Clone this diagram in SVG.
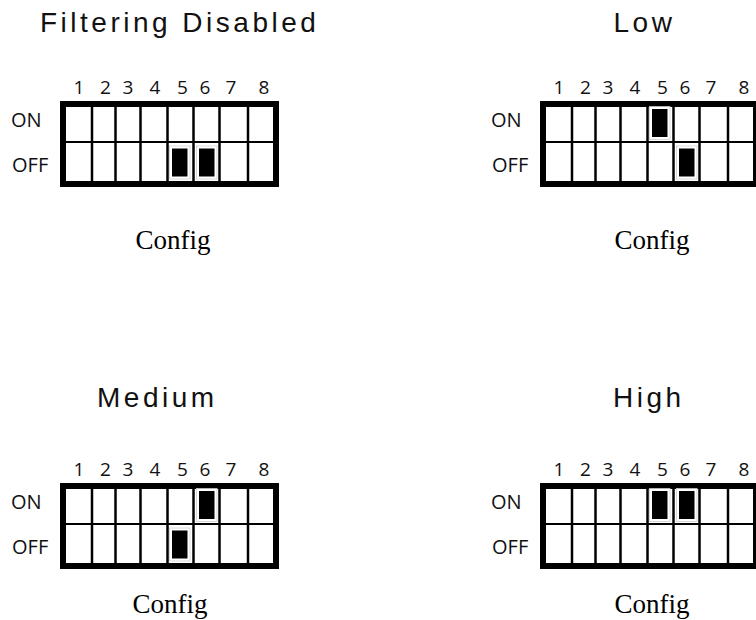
<svg xmlns="http://www.w3.org/2000/svg" xmlns:xlink="http://www.w3.org/1999/xlink" width="756" height="620" viewBox="0 0 756 620">
  <style>
    .title { font-family: "Liberation Sans", Arial, sans-serif; font-size: 28px; letter-spacing: 3.5px; fill: #111; }
    .num { font-family: "Open Sans", "DejaVu Sans", sans-serif; font-size: 19px; fill: #111; text-anchor: middle; }
    .state { font-family: "Open Sans", "DejaVu Sans", sans-serif; font-size: 20px; fill: #111; }
    .cap { font-family: "Liberation Serif", "Times New Roman", serif; font-size: 27px; fill: #000; text-anchor: middle; }
    .frame { fill: #fff; stroke: #000; stroke-width: 6; }
    .div { stroke: #000; stroke-width: 2.5; }
    .mid { stroke: #000; stroke-width: 2; }
    .well { fill: #fff; stroke: #c8c8c8; stroke-width: 0.7; }
    .knob { fill: #000; }
  </style>
  <defs>
    <!-- 8-way DIP switch body: frame, row split and column dividers -->
    <g id="dipBody">
      <rect class="frame" x="63" y="104" width="213" height="80"/>
      <line class="mid" x1="66" y1="142" x2="273" y2="142"/>
      <line class="div" x1="92" y1="107" x2="92" y2="181"/>
      <line class="div" x1="115.5" y1="107" x2="115.5" y2="181"/>
      <line class="div" x1="140.5" y1="107" x2="140.5" y2="181"/>
      <line class="div" x1="167.5" y1="107" x2="167.5" y2="181"/>
      <line class="div" x1="193.5" y1="107" x2="193.5" y2="181"/>
      <line class="div" x1="219.5" y1="107" x2="219.5" y2="181"/>
      <line class="div" x1="248" y1="107" x2="248" y2="181"/>
    </g>
    <!-- switch numbers and row labels -->
    <g id="dipLabels">
      <text class="num" x="79" y="94">1</text>
      <text class="num" x="105.5" y="94">2</text>
      <text class="num" x="128" y="94">3</text>
      <text class="num" x="155" y="94">4</text>
      <text class="num" x="182.5" y="94">5</text>
      <text class="num" x="205" y="94">6</text>
      <text class="num" x="231" y="94">7</text>
      <text class="num" x="264" y="94">8</text>
      <text class="state" x="11" y="127">ON</text>
      <text class="state" x="12" y="172">OFF</text>
    </g>
    <!-- slider knobs: column 5 / 6, ON / OFF position -->
    <g id="k5on"><rect class="well" x="169.5" y="106.5" width="20.5" height="33"/><rect class="knob" x="172" y="109" width="15.5" height="28"/></g>
    <g id="k6on"><rect class="well" x="196.5" y="106.5" width="20.5" height="33"/><rect class="knob" x="199" y="109" width="15.5" height="28"/></g>
    <g id="k5off"><rect class="well" x="169.5" y="146" width="20.5" height="33"/><rect class="knob" x="172" y="148.5" width="15.5" height="28"/></g>
    <g id="k6off"><rect class="well" x="196.5" y="146" width="20.5" height="33"/><rect class="knob" x="199" y="148.5" width="15.5" height="28"/></g>
  </defs>

  <g id="filtering-disabled">
    <text class="title" x="40" y="32">Filtering Disabled</text>
    <use xlink:href="#dipLabels"/>
    <use xlink:href="#dipBody"/>
    <use xlink:href="#k5off"/>
    <use xlink:href="#k6off"/>
    <text class="cap" x="173" y="249">Config</text>
  </g>

  <g id="low" transform="translate(480,0)">
    <text class="title" x="133.5" y="32">Low</text>
    <use xlink:href="#dipLabels"/>
    <use xlink:href="#dipBody"/>
    <use xlink:href="#k5on"/>
    <use xlink:href="#k6off"/>
    <text class="cap" x="172" y="249">Config</text>
  </g>

  <g id="medium" transform="translate(0,382)">
    <text class="title" x="97" y="25">Medium</text>
    <use xlink:href="#dipLabels"/>
    <use xlink:href="#dipBody"/>
    <use xlink:href="#k6on"/>
    <use xlink:href="#k5off"/>
    <text class="cap" x="170" y="231">Config</text>
  </g>

  <g id="high" transform="translate(480,382)">
    <text class="title" x="133" y="25">High</text>
    <use xlink:href="#dipLabels"/>
    <use xlink:href="#dipBody"/>
    <use xlink:href="#k5on"/>
    <use xlink:href="#k6on"/>
    <text class="cap" x="172" y="231">Config</text>
  </g>

  <g id="connectors"/>
</svg>
